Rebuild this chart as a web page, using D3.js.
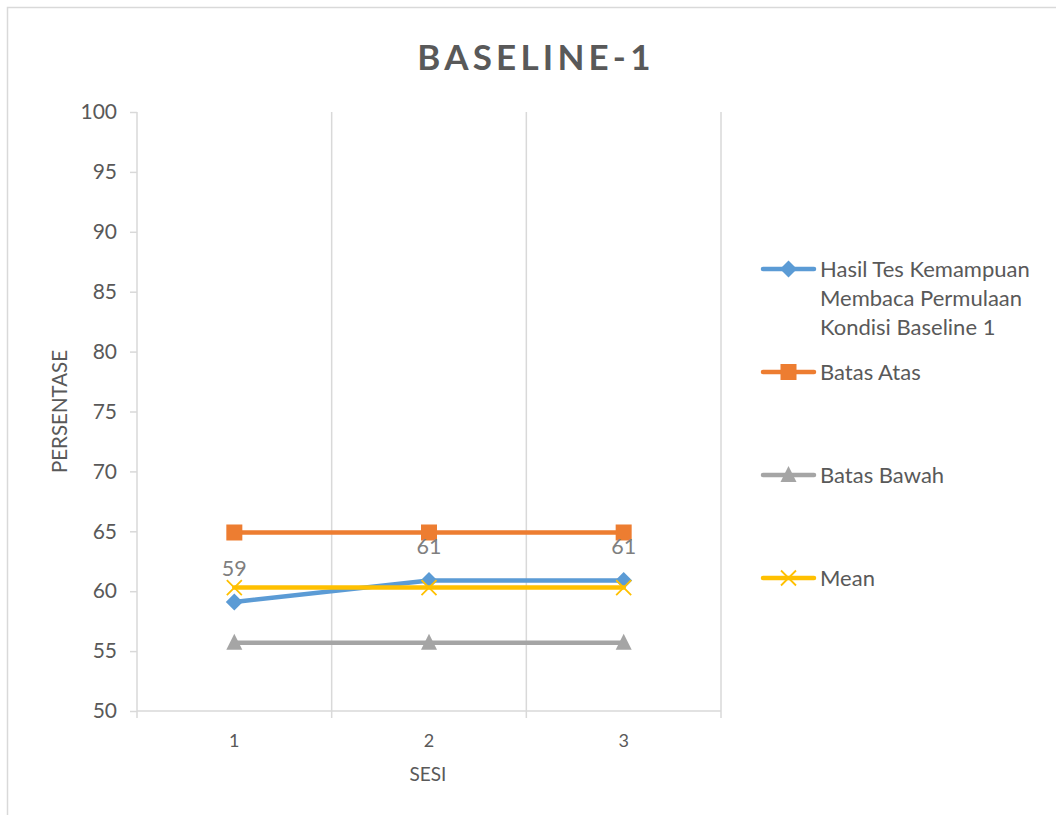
<!DOCTYPE html>
<html>
<head>
<meta charset="utf-8">
<script src="https://cdn.jsdelivr.net/npm/d3@7"></script>
<style>
  html, body { margin: 0; padding: 0; background: #ffffff; }
  svg { display: block; }
</style>
</head>
<body>
<svg id="chart" width="1056" height="815"></svg>
<script>
// Sessions on the horizontal axis
const sessions = ["1", "2", "3"];

// Series values (percent)
const hasilTes   = [59.1, 60.9, 60.9];
const batasAtas  = [64.9, 64.9, 64.9];
const batasBawah = [55.7, 55.7, 55.7];
const meanLine   = [60.3, 60.3, 60.3];

// Y axis ticks
const yTicks = [50, 55, 60, 65, 70, 75, 80, 85, 90, 95, 100];

const seriesNames = [
  ["Hasil Tes Kemampuan", "Membaca Permulaan", "Kondisi Baseline 1"],
  ["Batas Atas"],
  ["Batas Bawah"],
  ["Mean"]
];

const series = [
  { name: seriesNames[0], values: hasilTes,   color: "#5b9bd5", marker: "diamond",  labels: true },
  { name: seriesNames[1], values: batasAtas,  color: "#ed7d31", marker: "square",   labels: false },
  { name: seriesNames[2], values: batasBawah, color: "#a5a5a5", marker: "triangle", labels: false },
  { name: seriesNames[3], values: meanLine,   color: "#ffc000", marker: "x",        labels: false }
];

const FONT = "Lato, 'Open Sans', sans-serif";
const TEXT = "#595959";
const GRID = "#d9d9d9";

const svg = d3.select("#chart");

// Outer chart frame
svg.append("rect")
  .attr("x", 7.5).attr("y", 7.5)
  .attr("width", 1100).attr("height", 900)
  .attr("fill", "#fff").attr("stroke", GRID).attr("stroke-width", 1.5);

const plot = { left: 137, right: 721, top: 112, bottom: 711 };

const x = d3.scaleBand().domain(sessions).range([plot.left, plot.right]).paddingInner(0).paddingOuter(0);
const y = d3.scaleLinear().domain([50, 100]).range([plot.bottom, plot.top]);
const cx = d => x(d) + x.bandwidth() / 2;

// Vertical gridlines at category boundaries
const boundaries = d3.range(sessions.length + 1).map(i => plot.left + i * x.bandwidth());
svg.append("g").selectAll("line").data(boundaries.slice(1)).join("line")
  .attr("x1", d => d).attr("x2", d => d)
  .attr("y1", plot.top).attr("y2", plot.bottom)
  .attr("stroke", GRID).attr("stroke-width", 1.5);

// Y axis
const yAxis = svg.append("g")
  .attr("transform", `translate(${plot.left},0)`)
  .call(d3.axisLeft(y).tickValues(yTicks).tickSize(7).tickPadding(13).tickFormat(d3.format("d")));
yAxis.select(".domain").attr("stroke", GRID).attr("stroke-width", 1.5).attr("d", `M0,${plot.top}V${plot.bottom}`);
yAxis.selectAll(".tick line").attr("stroke", GRID).attr("stroke-width", 1.5);
yAxis.selectAll(".tick text").attr("fill", TEXT).attr("font-family", FONT).attr("font-size", 21);

// X axis (tick marks at category boundaries, labels centered in each band)
const xAxis = svg.append("g").attr("transform", `translate(0,${plot.bottom})`);
xAxis.append("line")
  .attr("x1", plot.left).attr("x2", plot.right)
  .attr("stroke", GRID).attr("stroke-width", 1.5);
xAxis.selectAll("line.tk").data(boundaries).join("line").attr("class", "tk")
  .attr("x1", d => d).attr("x2", d => d).attr("y1", 0).attr("y2", 7)
  .attr("stroke", GRID).attr("stroke-width", 1.5);
xAxis.selectAll("text").data(sessions).join("text")
  .attr("x", d => cx(d)).attr("y", 36)
  .attr("text-anchor", "middle")
  .attr("fill", TEXT).attr("font-family", FONT).attr("font-size", 18)
  .text(d => d);

// Axis titles
svg.append("text")
  .attr("x", (plot.left + plot.right) / 2 - 1).attr("y", 781)
  .attr("text-anchor", "middle")
  .attr("fill", TEXT).attr("font-family", FONT).attr("font-size", 19)
  .text("SESI");
svg.append("text")
  .attr("transform", `translate(67,${(plot.top + plot.bottom) / 2}) rotate(-90)`)
  .attr("text-anchor", "middle")
  .attr("fill", TEXT).attr("font-family", FONT).attr("font-size", 20.5)
  .text("PERSENTASE");

// Chart title
svg.append("text")
  .attr("x", 536).attr("y", 70)
  .attr("text-anchor", "middle")
  .attr("fill", TEXT).attr("font-family", FONT).attr("font-size", 35)
  .attr("font-weight", "bold").attr("letter-spacing", 4.2)
  .text("BASELINE-1");

// Marker drawing
function drawMarker(g, type, color, mx, my) {
  if (type === "diamond") {
    g.append("path")
      .attr("d", `M${mx},${my - 8.5}L${mx + 8.5},${my}L${mx},${my + 8.5}L${mx - 8.5},${my}Z`)
      .attr("fill", color);
  } else if (type === "square") {
    g.append("rect")
      .attr("x", mx - 8).attr("y", my - 8).attr("width", 16).attr("height", 16)
      .attr("fill", color);
  } else if (type === "triangle") {
    g.append("path")
      .attr("d", `M${mx},${my - 9}L${mx + 8},${my + 7}L${mx - 8},${my + 7}Z`)
      .attr("fill", color);
  } else if (type === "x") {
    g.append("path")
      .attr("d", `M${mx - 7.5},${my - 7.5}L${mx + 7.5},${my + 7.5}M${mx + 7.5},${my - 7.5}L${mx - 7.5},${my + 7.5}`)
      .attr("stroke", color).attr("stroke-width", 1.8).attr("fill", "none");
  }
}

const line = d3.line().x((d, i) => cx(sessions[i])).y(d => y(d));

series.forEach(s => {
  const g = svg.append("g");
  g.append("path")
    .attr("d", line(s.values))
    .attr("fill", "none").attr("stroke", s.color)
    .attr("stroke-width", 4.5).attr("stroke-linejoin", "round").attr("stroke-linecap", "round");
  s.values.forEach((v, i) => drawMarker(g, s.marker, s.color, cx(sessions[i]), y(v)));
});

// Data labels for the test results
series.filter(s => s.labels).forEach(s => {
  svg.append("g").selectAll("text").data(s.values).join("text")
    .attr("x", (d, i) => cx(sessions[i]))
    .attr("y", d => y(d) - 26)
    .attr("text-anchor", "middle")
    .attr("fill", "#7f7f7f").attr("font-family", FONT).attr("font-size", 21.5)
    .text(d => d3.format(".0f")(d));
});

// Legend
const legendY = [269, 372, 475, 578];
series.forEach((s, i) => {
  const g = svg.append("g");
  const ly = legendY[i];
  g.append("line")
    .attr("x1", 763).attr("x2", 814).attr("y1", ly).attr("y2", ly)
    .attr("stroke", s.color).attr("stroke-width", 4.5).attr("stroke-linecap", "round");
  drawMarker(g, s.marker, s.color, 788.5, ly);
  s.name.forEach((t, k) => {
    g.append("text")
      .attr("x", 820).attr("y", ly + 8 + k * 29)
      .attr("fill", TEXT).attr("font-family", FONT).attr("font-size", 22)
      .text(t);
  });
});
</script>
</body>
</html>
